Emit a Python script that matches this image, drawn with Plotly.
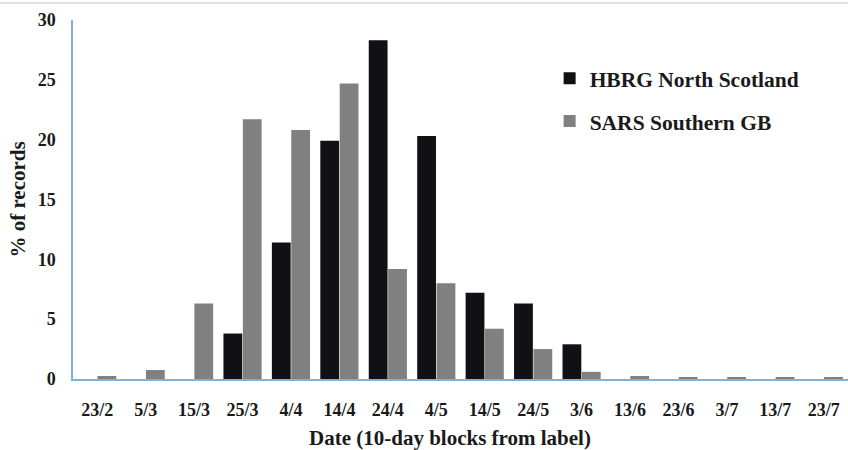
import plotly.graph_objects as go

categories = ["23/2", "5/3", "15/3", "25/3", "4/4", "14/4", "24/4", "4/5",
              "14/5", "24/5", "3/6", "13/6", "23/6", "3/7", "13/7", "23/7"]
hbrg = [0, 0, 0, 3.8, 11.4, 19.9, 28.3, 20.3, 7.2, 6.3, 2.9, 0, 0, 0, 0, 0]
sars = [0.25, 0.75, 6.3, 21.7, 20.8, 24.7, 9.2, 8.0, 4.2, 2.5, 0.6, 0.25, 0.15, 0.1, 0.1, 0.1]
y_ticks = [0, 5, 10, 15, 20, 25, 30]

font_family = "Times New Roman, Liberation Serif, serif"

fig = go.Figure()
fig.add_trace(go.Bar(x=categories, y=hbrg, name="<b>HBRG North Scotland</b>",
                     marker=dict(color="#111014", line=dict(width=0)),
                     legendgroup="a"))
fig.add_trace(go.Bar(x=categories, y=sars, name="<b>SARS Southern GB</b>",
                     marker=dict(color="#808080", line=dict(width=0)),
                     legendgroup="b"))

fig.update_layout(
    width=848, height=450,
    margin=dict(l=73, r=0, t=20, b=71),
    paper_bgcolor="white", plot_bgcolor="white",
    barmode="group", bargap=0.2, bargroupgap=0.03,
    font=dict(family=font_family, color="#1a1a1a", size=18),
    legend=dict(x=0.615, y=0.895, xanchor="left", yanchor="top",
                font=dict(size=21.5, family=font_family, color="#1a1a1a"),
                traceorder="grouped", tracegroupgap=12,
                itemwidth=30,
                bgcolor="rgba(0,0,0,0)"),
    xaxis=dict(
        tickvals=categories, ticktext=["<b>%s</b>" % c for c in categories],
        showline=True, linecolor="#7fb2da", linewidth=1.5,
        showgrid=False, ticks="", tickfont=dict(size=18),
        ticklabelstandoff=14,
        range=[-0.5, 15.5], automargin=False,
    ),
    yaxis=dict(
        range=[0, 30], tickvals=y_ticks,
        ticktext=["<b>%d</b>" % v for v in y_ticks],
        showline=True, linecolor="#7fb2da", linewidth=1.5,
        showgrid=False, ticks="", zeroline=False, tickfont=dict(size=18),
        ticklabelstandoff=12,
        title=dict(text="<b>% of records</b>", font=dict(size=21), standoff=6),
        automargin=False,
    ),
    annotations=[dict(text="<b>Date (10-day blocks from label)</b>",
                      xref="paper", yref="paper", x=(450 - 73) / 775, y=-(438 - 379) / 359,
                      xanchor="center", yanchor="middle", showarrow=False,
                      font=dict(size=21, family=font_family, color="#1a1a1a"))],
    shapes=[dict(type="line", xref="paper", yref="paper", x0=-0.1, x1=1.1,
                 y0=1.0 + 17 / 359, y1=1.0 + 17 / 359,
                 line=dict(color="#e6e3de", width=2))],
)

fig.write_html("out.html", config={"displayModeBar": False},
               post_script="document.body.style.margin='0';document.body.style.overflow='hidden';")
